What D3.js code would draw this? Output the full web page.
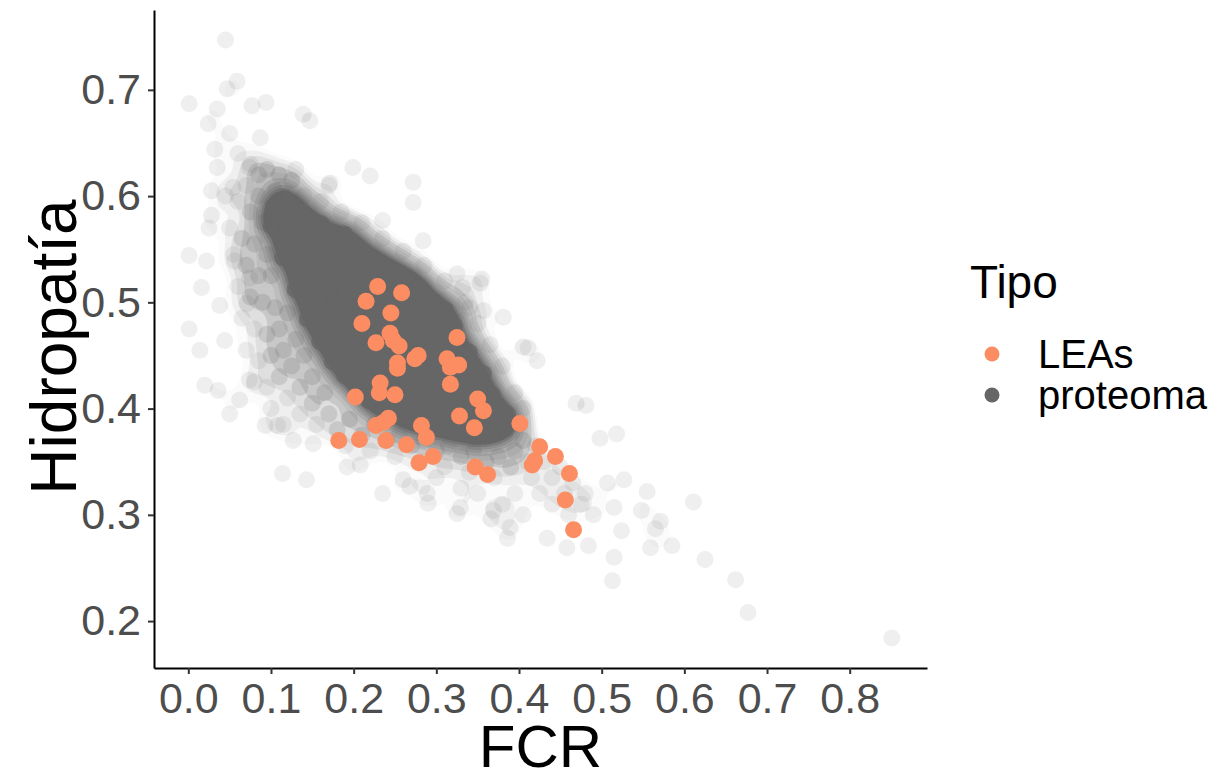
<!DOCTYPE html>
<html>
<head>
<meta charset="utf-8">
<script src="https://cdn.jsdelivr.net/npm/d3@7"></script>
<style>
  body { margin: 0; background: #fff; }
  text { font-family: "Liberation Sans", Arial, Helvetica, sans-serif; }
</style>
</head>
<body>
<svg width="1231" height="780"></svg>
<script>
const xTicks = [0, 0.1, 0.2, 0.3, 0.4, 0.5, 0.6, 0.7, 0.8];
const yTicks = [0.2, 0.3, 0.4, 0.5, 0.6, 0.7];
const tipos = ["LEAs", "proteoma"];

// LEAs: [FCR, hidropatia]
const leas = [
  [0.229,0.515],[0.258,0.509],[0.215,0.501],[0.245,0.490],[0.210,0.480],[0.244,0.471],
  [0.227,0.462],[0.248,0.464],[0.255,0.459],[0.325,0.467],[0.278,0.450],[0.274,0.447],
  [0.313,0.447],[0.327,0.441],[0.317,0.439],[0.253,0.443],[0.253,0.438],[0.232,0.424],
  [0.231,0.415],[0.250,0.413],[0.202,0.411],[0.317,0.423],[0.350,0.409],[0.357,0.398],
  [0.328,0.393],[0.346,0.382],[0.401,0.386],[0.242,0.391],[0.236,0.387],[0.227,0.384],
  [0.282,0.384],[0.288,0.373],[0.182,0.370],[0.207,0.371],[0.239,0.370],[0.264,0.366],
  [0.296,0.355],[0.279,0.349],[0.347,0.345],[0.362,0.338],[0.425,0.364],[0.419,0.351],
  [0.416,0.347],[0.444,0.355],[0.461,0.339],[0.456,0.314],[0.466,0.286]
];

// proteoma: [FCR, hidropatia, proteinas superpuestas (estimado)]
const proteoma = [
  // nucleo denso
  [0.100,0.572,12],[0.103,0.591,12],
  [0.114,0.542,12],[0.116,0.561,12],[0.113,0.580,12],[0.117,0.598,12],
  [0.129,0.512,12],[0.131,0.531,12],[0.128,0.552,12],[0.132,0.571,12],[0.130,0.590,12],
  [0.144,0.484,12],[0.146,0.503,12],[0.143,0.522,12],[0.147,0.541,12],[0.145,0.561,12],[0.142,0.580,12],
  [0.159,0.463,12],[0.161,0.482,12],[0.158,0.501,12],[0.162,0.521,12],[0.160,0.540,12],[0.157,0.558,12],[0.161,0.574,12],
  [0.174,0.444,12],[0.176,0.462,12],[0.173,0.481,12],[0.177,0.500,12],[0.175,0.521,12],[0.172,0.540,12],[0.176,0.560,12],
  [0.189,0.431,12],[0.191,0.449,12],[0.188,0.470,12],[0.192,0.489,12],[0.190,0.509,12],[0.187,0.528,12],[0.191,0.548,12],[0.189,0.564,12],
  [0.204,0.418,12],[0.206,0.436,12],[0.203,0.456,12],[0.207,0.474,12],[0.205,0.495,12],[0.202,0.514,12],[0.206,0.534,12],[0.204,0.553,12],
  [0.219,0.407,12],[0.221,0.426,12],[0.218,0.444,12],[0.222,0.466,12],[0.220,0.484,12],[0.217,0.505,12],[0.221,0.524,12],[0.219,0.543,12],
  [0.234,0.401,12],[0.236,0.421,12],[0.233,0.439,12],[0.237,0.461,12],[0.235,0.479,12],[0.232,0.499,12],[0.236,0.519,12],[0.234,0.537,12],
  [0.249,0.396,12],[0.251,0.414,12],[0.248,0.436,12],[0.252,0.454,12],[0.250,0.476,12],[0.247,0.494,12],[0.251,0.514,12],[0.249,0.529,12],
  [0.264,0.391,12],[0.266,0.411,12],[0.263,0.429,12],[0.267,0.451,12],[0.265,0.469,12],[0.262,0.491,12],[0.266,0.509,12],[0.264,0.522,12],
  [0.279,0.387,12],[0.281,0.406,12],[0.278,0.426,12],[0.282,0.444,12],[0.280,0.466,12],[0.277,0.484,12],[0.281,0.503,12],[0.279,0.514,12],
  [0.294,0.386,12],[0.296,0.404,12],[0.293,0.426,12],[0.297,0.446,12],[0.295,0.464,12],[0.292,0.484,12],[0.296,0.499,12],
  [0.309,0.382,12],[0.311,0.401,12],[0.308,0.421,12],[0.312,0.439,12],[0.310,0.461,12],[0.307,0.479,12],[0.311,0.493,12],
  [0.324,0.381,12],[0.326,0.399,12],[0.323,0.419,12],[0.327,0.441,12],[0.325,0.459,12],[0.322,0.478,12],
  [0.339,0.377,12],[0.341,0.396,12],[0.338,0.416,12],[0.342,0.434,12],[0.340,0.453,12],
  [0.354,0.376,12],[0.356,0.394,12],[0.353,0.414,12],[0.357,0.433,12],
  [0.369,0.377,12],[0.371,0.396,12],[0.368,0.413,12],
  [0.384,0.381,12],[0.386,0.395,12],
  // halo
  [0.060,0.640,1],[0.075,0.630,1],[0.085,0.620,2],[0.095,0.625,2],[0.070,0.610,1],[0.085,0.600,2],
  [0.060,0.595,1],[0.075,0.585,2],[0.090,0.575,2],[0.050,0.570,1],[0.065,0.560,2],[0.080,0.555,2],
  [0.095,0.545,2],[0.055,0.545,1],[0.070,0.535,2],[0.085,0.525,2],[0.100,0.525,2],[0.060,0.515,1],
  [0.075,0.505,2],[0.090,0.500,2],[0.105,0.495,2],[0.045,0.600,1],[0.110,0.620,2],[0.125,0.615,2],
  [0.105,0.605,2],
  [0.065,0.485,1],[0.080,0.475,1],[0.095,0.470,2],[0.110,0.475,2],[0.120,0.490,2],[0.070,0.455,1],
  [0.085,0.445,1],[0.100,0.450,2],[0.115,0.455,2],[0.130,0.465,2],[0.080,0.425,1],[0.095,0.420,1],
  [0.110,0.430,2],[0.125,0.440,2],[0.140,0.450,2],[0.100,0.400,1],[0.120,0.410,1],[0.135,0.420,2],
  [0.150,0.430,2],[0.115,0.385,1],[0.135,0.395,1],[0.150,0.405,2],[0.165,0.415,2],[0.170,0.395,2],
  [0.155,0.385,1],
  [0.180,0.380,2],[0.195,0.390,2],[0.190,0.365,1],[0.210,0.375,2],[0.225,0.385,2],[0.220,0.360,1],
  [0.240,0.370,2],[0.255,0.375,2],[0.250,0.355,1],[0.270,0.365,2],[0.285,0.370,2],[0.280,0.350,1],
  [0.300,0.360,2],[0.315,0.365,2],[0.310,0.345,1],[0.330,0.355,2],[0.345,0.360,2],[0.340,0.340,1],
  [0.360,0.350,2],[0.375,0.355,2],[0.370,0.335,1],[0.390,0.345,2],[0.395,0.360,2],[0.405,0.370,2],
  [0.300,0.335,1],
  [0.400,0.385,2],[0.410,0.350,1],[0.420,0.365,1],[0.415,0.335,1],[0.430,0.350,1],[0.425,0.320,1],
  [0.440,0.335,1],[0.450,0.345,1],[0.440,0.310,1],[0.455,0.320,1],[0.465,0.330,1],[0.460,0.300,1],
  [0.475,0.310,1],[0.480,0.320,1],[0.490,0.300,1],[0.395,0.320,1],[0.380,0.310,1],[0.350,0.320,1],
  [0.330,0.325,1],[0.405,0.300,1],
  [0.140,0.600,1],[0.160,0.595,1],[0.185,0.585,1],[0.210,0.575,1],[0.235,0.560,1],[0.260,0.548,1],
  [0.285,0.535,1],[0.310,0.520,1],[0.335,0.500,1],[0.350,0.480,1],[0.365,0.460,1],[0.380,0.440,1],
  [0.395,0.415,1],[0.405,0.400,1],[0.130,0.625,1],[0.170,0.610,1],
  // puntos aislados
  [0.045,0.747,1],[0.059,0.708,1],[0.047,0.701,1],[0.001,0.687,1],[0.035,0.682,1],[0.077,0.685,1],
  [0.094,0.688,1],[0.024,0.668,1],[0.032,0.644,1],[0.139,0.677,1],[0.147,0.671,1],[0.199,0.627,1],
  [0.220,0.619,1],[0.272,0.613,1],[0.272,0.594,1],[0.028,0.605,1],[0.025,0.570,1],[0.001,0.544,1],
  [0.016,0.514,1],[0.074,0.523,1],[0.284,0.558,1],[0.325,0.527,1],[0.355,0.522,1],[0.235,0.577,1],
  [0.171,0.612,1],[0.054,0.608,1],[0.074,0.627,1],[0.087,0.655,1],[0.050,0.659,1],[0.035,0.627,1],
  [0.022,0.539,1],[0.071,0.499,1],[0.001,0.475,1],[0.036,0.417,1],[0.050,0.395,1],[0.093,0.384,1],
  [0.108,0.384,1],[0.114,0.339,1],[0.143,0.333,1],[0.192,0.345,1],[0.208,0.347,1],[0.235,0.320,1],
  [0.260,0.333,1],[0.289,0.320,1],[0.329,0.307,1],[0.369,0.304,1],[0.389,0.288,1],[0.357,0.492,1],
  [0.381,0.486,1],[0.405,0.458,1],[0.422,0.445,1],[0.353,0.518,1],[0.332,0.514,1],[0.074,0.427,1],
  [0.127,0.370,1],[0.151,0.367,1],[0.340,0.495,1],[0.411,0.457,1],[0.469,0.405,1],[0.481,0.403,1],
  [0.498,0.372,1],[0.518,0.376,1],[0.507,0.330,1],[0.527,0.333,1],[0.555,0.322,1],[0.611,0.312,1],
  [0.515,0.307,1],[0.548,0.304,1],[0.571,0.294,1],[0.565,0.287,1],[0.524,0.285,1],[0.559,0.269,1],
  [0.585,0.271,1],[0.515,0.260,1],[0.484,0.271,1],[0.458,0.269,1],[0.625,0.258,1],[0.513,0.238,1],
  [0.662,0.239,1],[0.677,0.208,1],[0.851,0.184,1],[0.434,0.278,1],[0.386,0.278,1],[0.366,0.296,1],
  [0.325,0.301,1],[0.290,0.311,1],[0.268,0.327,1],[0.014,0.455,1],[0.020,0.422,1],[0.038,0.497,1],
  [0.044,0.464,1],[0.056,0.539,1],[0.062,0.408,1],[0.028,0.582,1]
];

const svg = d3.select("svg");
const panel = { left: 154, right: 927, top: 10, bottom: 668 };

// rangos con la expansion del 5% de ggplot
const allX = proteoma.map(d => d[0]).concat(leas.map(d => d[0]));
const allY = proteoma.map(d => d[1]).concat(leas.map(d => d[1]));
const [x0, x1] = d3.extent(allX);
const [y0, y1] = d3.extent(allY);
const x = d3.scaleLinear()
    .domain([x0 - 0.05 * (x1 - x0), x1 + 0.05 * (x1 - x0)])
    .range([panel.left, panel.right]);
const y = d3.scaleLinear()
    .domain([y0 - 0.05 * (y1 - y0), y1 + 0.05 * (y1 - y0)])
    .range([panel.bottom, panel.top]);

const color = d3.scaleOrdinal().domain(tipos).range(["#FC8D62", "#666666"]);
const alpha = 0.1;

// zona saturada del proteoma, a partir de la densidad de los puntos
const density = d3.contourDensity()
    .x(d => x(d[0]))
    .y(d => y(d[1]))
    .weight(d => d[2])
    .size([1231, 780])
    .cellSize(2)
    .bandwidth(11);
const contour = density.contours(proteoma);
const fracs = [0.035, 0.05, 0.07, 0.1, 0.14, 0.2, 0.26, 0.32, 0.39, 0.46];
const target = d3.scaleLinear().domain([0.03, 0.1, 0.46]).range([0, 0.35, 1]).clamp(true);

svg.append("g")
    .selectAll("path")
    .data(fracs)
    .join("path")
    .attr("d", f => d3.geoPath()(contour(f * contour.max)))
    .attr("fill", color("proteoma"))
    .attr("fill-opacity", (f, i) => {
        const prev = i === 0 ? 0 : target(fracs[i - 1]);
        const t = target(f);
        return t >= 1 ? 1 : 1 - (1 - t) / (1 - prev);
    });

svg.append("g")
    .selectAll("circle")
    .data(proteoma)
    .join("circle")
    .attr("cx", d => x(d[0]))
    .attr("cy", d => y(d[1]))
    .attr("r", 8.5)
    .attr("fill", color("proteoma"))
    .attr("fill-opacity", d => 1 - Math.pow(1 - alpha, d[2]));

svg.append("g")
    .selectAll("circle")
    .data(leas)
    .join("circle")
    .attr("cx", d => x(d[0]))
    .attr("cy", d => y(d[1]))
    .attr("r", 8.5)
    .attr("fill", color("LEAs"));

// ejes
const xAxis = svg.append("g")
    .attr("transform", `translate(0,${panel.bottom})`)
    .call(d3.axisBottom(x).tickValues(xTicks).tickFormat(d3.format(".1f")).tickSize(6).tickSizeOuter(0).tickPadding(8));
const yAxis = svg.append("g")
    .attr("transform", `translate(${panel.left},0)`)
    .call(d3.axisLeft(y).tickValues(yTicks).tickFormat(d3.format(".1f")).tickSize(6).tickSizeOuter(0).tickPadding(7));

[xAxis, yAxis].forEach(g => {
    g.select(".domain").attr("stroke", "#000").attr("stroke-width", 2);
    g.selectAll(".tick line").attr("stroke", "#333").attr("stroke-width", 2);
    g.selectAll(".tick text")
        .attr("fill", "#4D4D4D")
        .style("font-size", "43px")
        .style("font-family", "'Liberation Sans', Arial, sans-serif");
});

svg.append("text")
    .attr("x", (panel.left + panel.right) / 2)
    .attr("y", 767)
    .attr("text-anchor", "middle")
    .style("font-size", "60px")
    .text("FCR");

svg.append("text")
    .attr("transform", `translate(76,${(panel.top + panel.bottom) / 2 + 8}) rotate(-90)`)
    .attr("text-anchor", "middle")
    .style("font-size", "64px")
    .text("Hidropatía");

// leyenda
const legend = svg.append("g").attr("transform", "translate(970,0)");
legend.append("text")
    .attr("x", 0)
    .attr("y", 298)
    .style("font-size", "46px")
    .text("Tipo");

const items = legend.selectAll(".item")
    .data(tipos)
    .join("g")
    .attr("class", "item")
    .attr("transform", (d, i) => `translate(0,${354 + i * 41})`);
items.append("circle")
    .attr("cx", 22)
    .attr("cy", 0)
    .attr("r", 7.5)
    .attr("fill", d => color(d));
items.append("text")
    .attr("x", 68)
    .attr("y", 14)
    .style("font-size", "40px")
    .text(d => d);
</script>
</body>
</html>
